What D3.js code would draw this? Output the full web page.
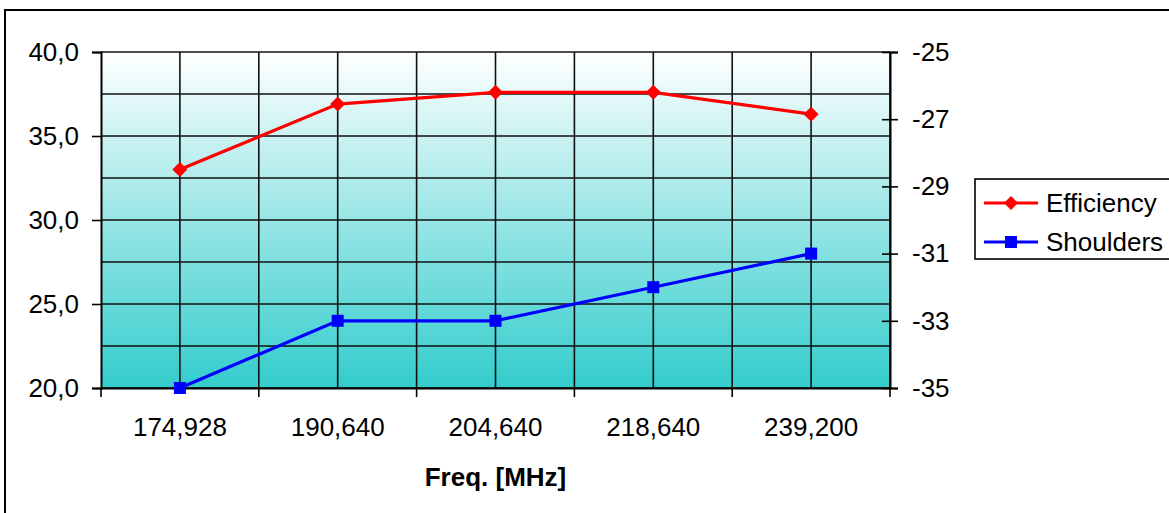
<!DOCTYPE html>
<html><head><meta charset="utf-8">
<script src="https://cdn.jsdelivr.net/npm/d3@7"></script>
<style>body{margin:0;background:#fff}svg{display:block}text{font-family:"Liberation Sans",Arial,sans-serif;fill:#000}</style>
</head><body>
<svg id="c" width="1169" height="513"></svg>
<script>
const categories = ["174,928","190,640","204,640","218,640","239,200"];
const efficiency = [33.0, 36.9, 37.6, 37.6, 36.3];
const shoulders = [-35, -33, -33, -32, -31];
const leftTicks = [20, 25, 30, 35, 40];
const rightTicks = [-35, -33, -31, -29, -27, -25];
const seriesNames = ["Efficiency", "Shoulders"];

const svg = d3.select("#c");
const L = 101, R = 890, T = 52, B = 388;
const fs = 26;
const FF = "Liberation Sans, Arial, sans-serif";

// frame (only top & left visible)
svg.append("path").attr("d", `M5,513 V10 H1169`).attr("fill","none").attr("stroke","#000").attr("stroke-width",2);

const defs = svg.append("defs");
const g = defs.append("linearGradient").attr("id","bg").attr("x1",0).attr("y1",0).attr("x2",0).attr("y2",1);
g.append("stop").attr("offset","0%").attr("stop-color","#ffffff");
g.append("stop").attr("offset","100%").attr("stop-color","#33cccc");
svg.append("rect").attr("x",L).attr("y",T).attr("width",R-L).attr("height",B-T).attr("fill","url(#bg)");

const x = d3.scaleBand().domain(categories).range([L,R]);
const xc = d => x(d) + x.bandwidth()/2;
const yL = d3.scaleLinear().domain([20,40]).range([B,T]);
const yR = d3.scaleLinear().domain([-35,-25]).range([B,T]);

// horizontal gridlines every 2.5
const hg = d3.range(20, 40.01, 2.5);
svg.append("g").selectAll("line").data(hg).join("line")
  .attr("x1",L).attr("x2",R).attr("y1",d=>yL(d)).attr("y2",d=>yL(d))
  .attr("stroke","#111").attr("stroke-width",1.6);
// vertical gridlines at centers and boundaries
const vx = [];
categories.forEach(c => { vx.push(x(c)); vx.push(xc(c)); });
vx.push(R);
svg.append("g").selectAll("line").data(vx.slice(1)).join("line")
  .attr("x1",d=>d).attr("x2",d=>d).attr("y1",T).attr("y2",B)
  .attr("stroke","#111").attr("stroke-width",1.6);

// left axis
const axL = svg.append("g").attr("transform",`translate(${L},0)`)
  .call(d3.axisLeft(yL).tickValues(leftTicks).tickSize(9).tickPadding(13).tickFormat(d => d3.format(".1f")(d).replace(".",",")));
axL.select(".domain").attr("stroke","#000").attr("stroke-width",2);
axL.selectAll(".tick line").attr("stroke","#000").attr("stroke-width",1.6);
axL.selectAll("text").attr("font-size",fs).attr("font-family",FF).attr("fill","#000");

// right axis (crossing ticks)
const axR = svg.append("g").attr("transform",`translate(${R},0)`)
  .call(d3.axisRight(yR).tickValues(rightTicks).tickSize(8).tickPadding(14).tickFormat(d => String(d)));
axR.select(".domain").attr("stroke","#000").attr("stroke-width",2);
axR.selectAll(".tick line").attr("x1",-8).attr("stroke","#000").attr("stroke-width",1.6);
axR.selectAll("text").attr("font-size",fs).attr("font-family",FF).attr("fill","#000");

// bottom axis
const axB = svg.append("g").attr("transform",`translate(0,${B})`)
  .call(d3.axisBottom(x).tickSize(0).tickPadding(30));
axB.select(".domain").attr("stroke","#000").attr("stroke-width",2);
axB.selectAll("text").attr("font-size",fs).attr("font-family",FF).attr("fill","#000");
svg.append("g").selectAll("line").data(categories.map(c=>x(c)).concat([R])).join("line")
  .attr("x1",d=>d).attr("x2",d=>d).attr("y1",B).attr("y2",B+9).attr("stroke","#000").attr("stroke-width",1.6);

svg.append("text").attr("x",(L+R)/2).attr("y",486).attr("text-anchor","middle")
  .attr("font-size",26).attr("font-weight","bold").text("Freq. [MHz]");

// series
const lineE = d3.line().x((d,i)=>xc(categories[i])).y(d=>yL(d));
const lineS = d3.line().x((d,i)=>xc(categories[i])).y(d=>yR(d));
svg.append("path").attr("d",lineE(efficiency)).attr("fill","none").attr("stroke","#ff0000").attr("stroke-width",3.2);
svg.append("path").attr("d",lineS(shoulders)).attr("fill","none").attr("stroke","#0000ff").attr("stroke-width",3.2);
const diamond = (cx,cy,s) => `M${cx},${cy-s} L${cx+s},${cy} L${cx},${cy+s} L${cx-s},${cy} Z`;
svg.append("g").selectAll("path").data(efficiency).join("path")
  .attr("d",(d,i)=>diamond(xc(categories[i]), yL(d), 7.5)).attr("fill","#ff0000");
svg.append("g").selectAll("rect").data(shoulders).join("rect")
  .attr("x",(d,i)=>xc(categories[i])-6).attr("y",d=>yR(d)-6).attr("width",12).attr("height",12).attr("fill","#0000ff");

// legend
const lg = svg.append("g");
lg.append("rect").attr("x",975).attr("y",179).attr("width",200).attr("height",80).attr("fill","#fff").attr("stroke","#000").attr("stroke-width",1.6);
const colors = ["#ff0000","#0000ff"];
seriesNames.forEach((n,i) => {
  const yy = 203 + i*39;
  lg.append("line").attr("x1",984).attr("x2",1038).attr("y1",yy).attr("y2",yy).attr("stroke",colors[i]).attr("stroke-width",3);
  if (i===0) lg.append("path").attr("d",diamond(1011,yy,7)).attr("fill",colors[i]);
  else lg.append("rect").attr("x",1005).attr("y",yy-6).attr("width",12).attr("height",12).attr("fill",colors[i]);
  lg.append("text").attr("x",1046).attr("y",yy+9).attr("font-size",fs).attr("font-family",FF).text(n);
});
</script>
</body></html>
